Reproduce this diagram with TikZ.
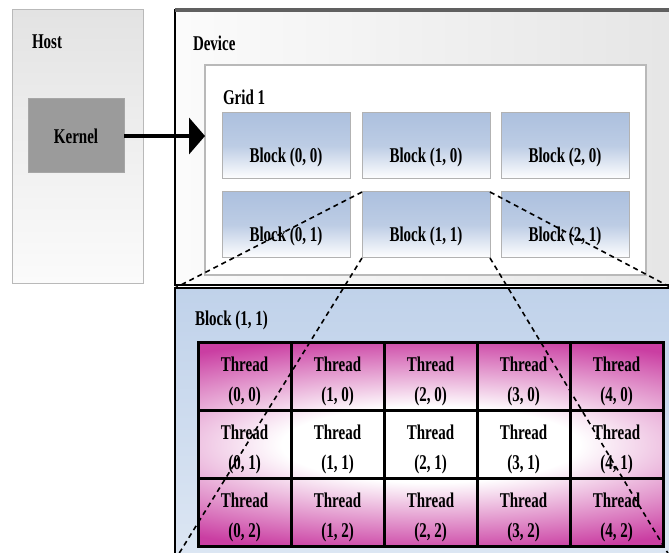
\documentclass[tikz,border=0pt]{standalone}
\usepackage{fontspec}
\setmainfont{Liberation Serif}
\usepackage{graphicx}
\usetikzlibrary{arrows.meta}
\usetikzlibrary{calc}

\definecolor{kernelgray}{RGB}{155,155,155}
\definecolor{blockblue}{RGB}{172,192,222}
\definecolor{lowblue}{RGB}{192,210,234}
\definecolor{threadpink}{RGB}{202,62,162}
\pgfdeclareradialshading{threadshade}{\pgfpoint{0bp}{0bp}}{color(0bp)=(white); color(16bp)=(white); color(46bp)=(threadpink); color(50bp)=(threadpink)}
\newcommand{\tall}[1]{\scalebox{1}[1.4]{#1}}

\begin{document}
\begin{tikzpicture}[x=1pt,y=-1pt,
every node/.style={inner sep=0pt,outer sep=0pt,font=\fontsize{15}{18}\selectfont\bfseries},
corner/.style={anchor=north west},
title/.style={anchor=west},
hostbox/.style={corner,draw=gray!55,line width=1pt,top color=gray!22,bottom color=gray!3},
kernelbox/.style={corner,draw=gray!70,line width=1pt,fill=kernelgray},
devbox/.style={corner,draw=black,line width=1.5pt,left color=gray!3,right color=gray!20},
gridbox/.style={corner,draw=gray!55,line width=1.2pt,fill=white},
blockbox/.style={corner,draw=gray!60,line width=1pt,top color=blockblue,bottom color=white,middle color=blockblue!80!white,
  minimum width=128pt,minimum height=66pt},
lowbox/.style={corner,draw=black,line width=1.5pt,top color=lowblue,bottom color=lowblue!55!white},
threadcell/.style={corner,draw=black,line width=3pt,minimum width=93pt,minimum height=68.33pt},
zoomline/.style={line width=1.6pt,dash pattern=on 5pt off 4pt},
kernarrow/.style={line width=4.5pt,-{Triangle[length=16pt,width=36pt]}}
]
\useasboundingbox (0,0) rectangle (669,553);
\clip (0,0) rectangle (669,553);
\fill[white] (0,0) rectangle (669,553);

% host side
\node[hostbox,minimum width=131pt,minimum height=274pt] (host) at (12,10) {};
\node[title] (hostlbl) at (32,42) {\tall{Host}};
\node[kernelbox,minimum width=96pt,minimum height=74pt] (kernel) at (28,99) {\tall{Kernel}};

% device with grid of blocks
\node[devbox,minimum width=500pt,minimum height=275pt] (dev) at (175,10) {};
\draw[line width=3.5pt,gray!75!black] (dev.north west) -- (dev.north east);
\node[title] (devlbl) at (193,43) {\tall{Device}};
\node[gridbox,minimum width=441pt,minimum height=210pt] (grid) at (205,65) {};
\node[title] (gridlbl) at (223,97) {\tall{Grid 1}};
\foreach \i/\x in {0/222,1/362,2/501}
  \foreach \j/\y in {0/113,1/192} {
    \node[blockbox] (b\i\j) at (\x,\y) {};
    \node (bl\i\j) at ([yshift=-11pt]b\i\j.center) {\tall{Block (\i, \j)}};
  }

% block (1,1) blown up
\node[lowbox,minimum width=497pt,minimum height=272pt] (blk) at (175,288) {};
\node[title] (blklbl) at (195,320) {\tall{Block (1, 1)}};
\fill[threadpink] (198,342) rectangle (663,547);
\begin{scope}
\pgfsetadditionalshadetransform{\pgftransformyscale{0.58}}
\shade[shading=threadshade] (198,342) rectangle (663,547);
\end{scope}
\foreach \i in {0,...,4}
  \foreach \j in {0,1,2} {
    \node[threadcell] (t\i\j) at ({198+93*\i},{342+68.33*\j}) {};
    \node (tl\i\j) at ([yshift=-5pt]t\i\j.center) {\tall{\shortstack{Thread\\[8pt](\i, \j)}}};
  }

% zoom lines
\draw[zoomline] (b11.north west) -- (blk.north west);
\draw[zoomline] (b11.north east) -- (blk.north east);
\draw[zoomline] (b11.south west) -- (blk.south west);
\draw[zoomline] (b11.south east) -- (blk.south east);

\draw[kernarrow] (kernel.east) -- (kernel.east -| grid.west);
\end{tikzpicture}
\end{document}
